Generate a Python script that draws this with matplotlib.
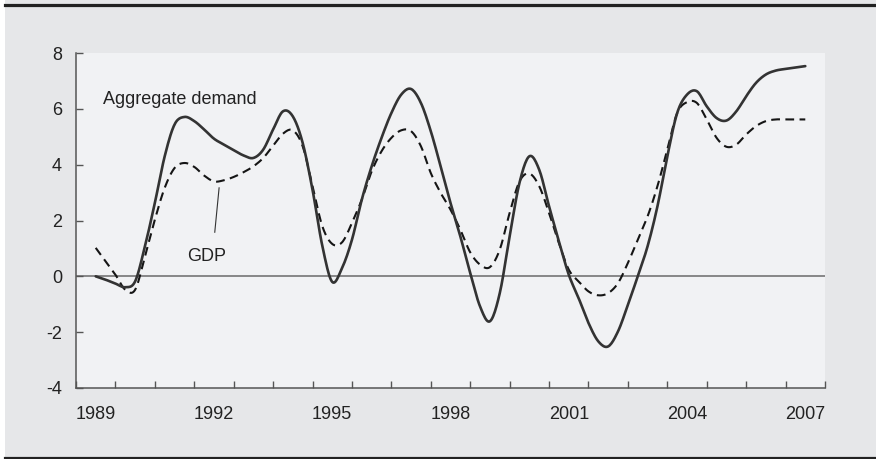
import numpy as np
import matplotlib
matplotlib.use("Agg")
from matplotlib import pyplot as plt
from matplotlib.patches import Rectangle
from matplotlib.lines import Line2D

plt.rcParams["font.family"] = ["Liberation Sans", "DejaVu Sans"]

# quarterly readings, 1989Q1 .. 2007Q1 (year fractions)
years = 1989 + np.arange(73) * 0.25

aggregate_demand = [
    0.00, -0.12, -0.26, -0.39, -0.18, 1.08, 2.63, 4.30, 5.44, 5.71,
    5.56, 5.26, 4.93, 4.72, 4.52, 4.33, 4.24, 4.54, 5.26, 5.91,
    5.73, 4.78, 3.10, 1.08, -0.20, 0.30, 1.31, 2.75, 3.94, 4.96,
    5.85, 6.51, 6.71, 6.21, 5.20, 3.94, 2.63, 1.43, 0.12, -1.08,
    -1.61, -0.60, 1.43, 3.35, 4.30, 3.82, 2.51, 1.25, 0.06, -0.78,
    -1.67, -2.33, -2.51, -1.97, -1.02, 0.00, 1.08, 2.51, 4.30, 5.85,
    6.51, 6.63, 6.09, 5.67, 5.58, 5.91, 6.45, 6.93, 7.23, 7.37,
    7.43, 7.48, 7.53,
]

gdp = [
    1.02, 0.54, 0.06, -0.48, -0.48, 0.72, 2.03, 3.17, 3.88, 4.06,
    3.92, 3.61, 3.40, 3.44, 3.56, 3.73, 3.94, 4.24, 4.68, 5.11,
    5.23, 4.66, 3.23, 1.79, 1.16, 1.22, 1.91, 2.75, 3.76, 4.48,
    4.96, 5.23, 5.20, 4.66, 3.70, 2.99, 2.39, 1.67, 0.86, 0.42,
    0.33, 0.96, 2.27, 3.40, 3.68, 3.23, 2.27, 1.19, 0.24, -0.18,
    -0.54, -0.68, -0.60, -0.24, 0.48, 1.31, 2.15, 3.23, 4.54, 5.85,
    6.24, 6.21, 5.62, 4.96, 4.64, 4.72, 5.08, 5.38, 5.56, 5.62,
    5.62, 5.62, 5.62,
]

year_labels = [1989, 1992, 1995, 1998, 2001, 2004, 2007]
y_ticks = [-4, -2, 0, 2, 4, 6, 8]


def smooth(x, y, n=12):
    # catmull-rom curve through the points, like a "smoothed line" chart
    x = np.asarray(x, float)
    y = np.asarray(y, float)
    px = np.concatenate([[2 * x[0] - x[1]], x, [2 * x[-1] - x[-2]]])
    py = np.concatenate([[2 * y[0] - y[1]], y, [2 * y[-1] - y[-2]]])
    t = np.linspace(0, 1, n, endpoint=False)
    xs, ys = [], []
    for i in range(1, len(px) - 2):
        for arr, out in ((px, xs), (py, ys)):
            p0, p1, p2, p3 = arr[i - 1], arr[i], arr[i + 1], arr[i + 2]
            out.append(0.5 * ((2 * p1) + (-p0 + p2) * t
                              + (2 * p0 - 5 * p1 + 4 * p2 - p3) * t ** 2
                              + (-p0 + 3 * p1 - 3 * p2 + p3) * t ** 3))
    xs.append([x[-1]])
    ys.append([y[-1]])
    return np.concatenate(xs), np.concatenate(ys)


fig = plt.figure(figsize=(8.76, 4.59), dpi=100, facecolor="white")
fig.patches.append(Rectangle((5 / 876, 0), 1, 1, transform=fig.transFigure,
                             facecolor="#e6e7e9", edgecolor="none", zorder=-5))
for yy in (454.5 / 459, 1.5 / 459):
    fig.lines.append(Line2D([5 / 876, 1], [yy, yy], transform=fig.transFigure,
                            color="#222222", lw=2.3, zorder=-4))

ax = fig.add_axes([76 / 876, (459 - 388) / 459, 749 / 876, 335 / 459])
ax.set_facecolor("#f1f2f4")

ax.axhline(0, color="#6a6a6a", lw=1.1, zorder=1)

xs, ys = smooth(years, aggregate_demand)
ax.plot(xs, ys, color="#333333", lw=1.9, solid_capstyle="round", zorder=3)
xs, ys = smooth(years, gdp)
ax.plot(xs, ys, color="#151515", lw=1.5, dashes=(4.2, 2.6), zorder=2)

ax.set_xlim(1988.5, 2007.5)
ax.set_ylim(-4, 8)
ax.set_yticks(y_ticks)
ax.set_yticklabels([str(v) for v in y_ticks])
ax.set_xticks(year_labels)
ax.set_xticklabels([str(v) for v in year_labels])
ax.set_xticks(np.arange(1988.5, 2008, 1.0), minor=True)

ax.tick_params(axis="x", which="major", length=0, pad=13, labelsize=13,
               labelcolor="#222222")
ax.tick_params(axis="x", which="minor", direction="in", length=5, width=1,
               color="#555555")
ax.tick_params(axis="y", direction="in", length=5, width=1, color="#555555",
               pad=10, labelsize=13, labelcolor="#222222")

for side in ("top", "right"):
    ax.spines[side].set_visible(False)
for side in ("left", "bottom"):
    ax.spines[side].set_color("#555555")
    ax.spines[side].set_linewidth(1.1)

ax.text(1989.19, 6.33, "Aggregate demand", fontsize=13, color="#222222",
        ha="left", va="center")
ax.text(1991.82, 0.71, "GDP", fontsize=13, color="#222222",
        ha="center", va="center")
ax.plot([1992.13, 1992.02], [3.17, 1.58], color="#333333", lw=0.8)

fig.savefig("out.png", dpi=100, facecolor=fig.get_facecolor())
